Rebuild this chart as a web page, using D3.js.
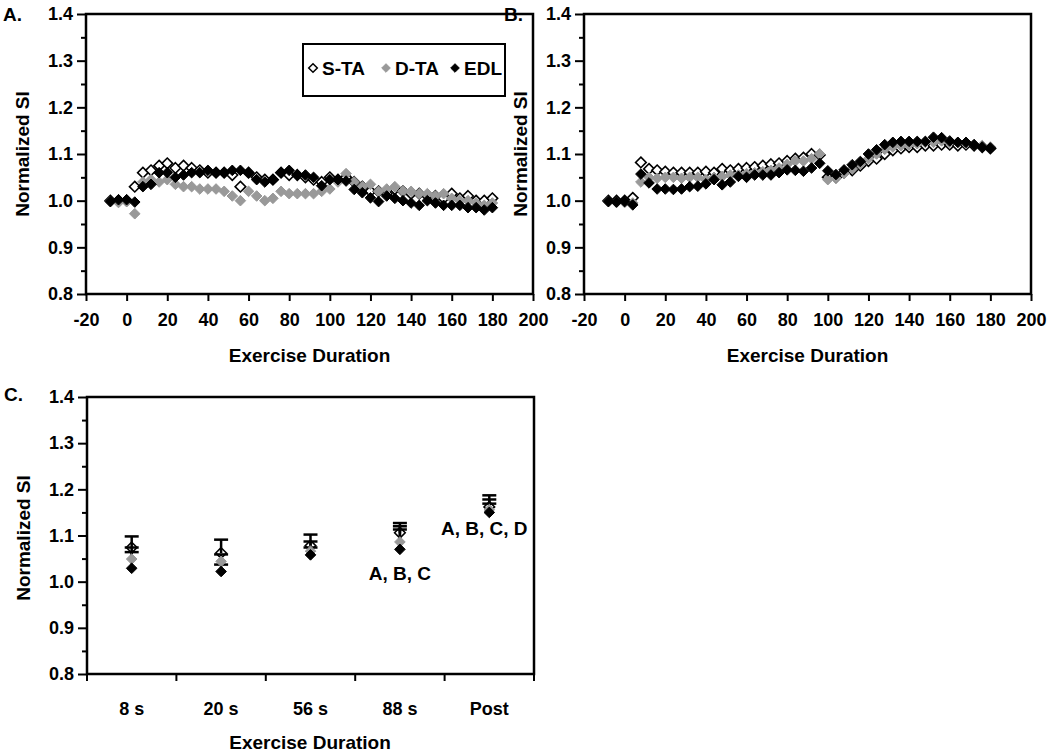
<!DOCTYPE html>
<html><head><meta charset="utf-8">
<script src="https://cdn.jsdelivr.net/npm/d3@7"></script>
<style>body{margin:0;background:#fff}svg{display:block}text{font-family:"Liberation Sans",Arial,sans-serif;font-weight:bold}</style>
</head><body>
<svg id="c" width="1048" height="756"></svg>
<script>
const seriesNames = ["S-TA","D-TA","EDL"];
const timePoints = [-8,-4,0,4,8,12,16,20,24,28,32,36,40,44,48,52,56,60,64,68,72,76,80,84,88,92,96,100,104,108,112,116,120,124,128,132,136,140,144,148,152,156,160,164,168,172,176,180];
const xTicks = [-20,0,20,40,60,80,100,120,140,160,180,200];
const yTicks = [0.8,0.9,1.0,1.1,1.2,1.3,1.4];
const yMinorTicks = [0.85,0.95,1.05,1.15,1.25,1.35];

const aSTA = [1.0,1.0,1.0,1.03,1.06,1.065,1.075,1.08,1.07,1.075,1.07,1.065,1.06,1.06,1.06,1.055,1.03,1.06,1.05,1.045,1.045,1.06,1.055,1.055,1.05,1.045,1.04,1.05,1.045,1.05,1.04,1.03,1.02,1.02,1.015,1.025,1.02,1.015,1.015,1.01,1.01,1.005,1.015,1.005,1.01,1.0,1.0,1.005];
const aDTA = [0.998,0.996,0.998,0.972,1.04,1.045,1.04,1.045,1.035,1.03,1.03,1.025,1.025,1.025,1.02,1.01,1.0,1.02,1.01,1.0,1.005,1.02,1.015,1.015,1.015,1.015,1.02,1.025,1.04,1.058,1.04,1.03,1.035,1.02,1.025,1.03,1.02,1.02,1.015,1.015,1.01,1.015,1.005,1.0,1.0,0.995,0.99,0.995];
const aEDL = [0.998,1.002,1.002,0.997,1.03,1.035,1.06,1.06,1.05,1.055,1.06,1.06,1.065,1.06,1.06,1.065,1.065,1.06,1.045,1.04,1.045,1.06,1.065,1.055,1.055,1.05,1.032,1.045,1.045,1.042,1.024,1.017,1.006,0.998,1.01,1.005,1.0,0.995,0.99,1.0,0.995,0.99,0.99,0.99,0.985,0.985,0.98,0.985];

const bSTA = [1.0,1.0,1.0,1.006,1.082,1.068,1.065,1.062,1.06,1.06,1.06,1.06,1.062,1.06,1.068,1.065,1.068,1.07,1.072,1.075,1.078,1.08,1.085,1.09,1.092,1.1,1.098,1.05,1.05,1.06,1.065,1.075,1.085,1.09,1.1,1.108,1.112,1.115,1.115,1.118,1.118,1.12,1.12,1.118,1.12,1.118,1.115,1.112];
const bDTA = [0.998,0.996,0.996,0.995,1.04,1.05,1.048,1.05,1.05,1.048,1.05,1.05,1.045,1.05,1.052,1.055,1.055,1.058,1.06,1.062,1.065,1.07,1.078,1.085,1.085,1.09,1.1,1.045,1.048,1.058,1.068,1.078,1.09,1.1,1.11,1.115,1.118,1.12,1.122,1.125,1.125,1.128,1.125,1.125,1.122,1.12,1.118,1.115];
const bEDL = [0.998,0.997,0.998,0.991,1.057,1.038,1.025,1.025,1.024,1.025,1.03,1.031,1.036,1.045,1.034,1.04,1.052,1.05,1.055,1.055,1.055,1.06,1.066,1.065,1.063,1.07,1.08,1.064,1.056,1.066,1.077,1.084,1.1,1.109,1.12,1.125,1.127,1.127,1.127,1.127,1.136,1.135,1.128,1.125,1.125,1.12,1.115,1.113];

const cCategories = ["8 s","20 s","56 s","88 s","Post"];
const cMeanSTA = [1.074,1.062,1.078,1.106,1.162];
const cErrSTA  = [0.024,0.029,0.024,0.021,0.025];
const cMeanDTA = [1.049,1.044,1.066,1.086,1.156];
const cErrDTA  = [0.025,0.015,0.021,0.034,0.022];
const cMeanEDL = [1.029,1.022,1.058,1.070,1.150];
const cErrEDL  = [0.035,0.015,0.016,0.043,0.019];
const cAnnotations = [{cat:"88 s", text:"A, B, C"},{cat:"Post", text:"A, B, C, D"}];

const svg = d3.select("#c");
const GRAY = "#999999";
const FONT = "Liberation Sans, Arial, sans-serif";
const diamond = r => `M0,${-r}L${r},0L0,${r}L${-r},0Z`;
const styles = {"S-TA":{fill:"#fff",stroke:"#000",sw:1.6},"D-TA":{fill:GRAY,stroke:GRAY,sw:1},"EDL":{fill:"#000",stroke:"#000",sw:1}};

function frame(g, x0, x1, y0, y1){
  g.append("rect").attr("x",x0).attr("y",y0).attr("width",x1-x0).attr("height",y1-y0)
   .attr("fill","none").attr("stroke","#000").attr("stroke-width",2.5);
}
function styleTicks(ax){
  ax.selectAll("text").attr("font-size",18).attr("fill","#000").attr("font-family",FONT).attr("font-weight","bold");
}
function yAxis(g, y, x0){
  const ax = g.append("g").attr("transform",`translate(${x0},0)`)
    .call(d3.axisLeft(y).tickValues(yTicks).tickSize(9).tickPadding(4).tickFormat(d3.format(".1f")));
  ax.select(".domain").remove();
  ax.selectAll("line").attr("stroke-width",2);
  styleTicks(ax);
  const mn = g.append("g").attr("transform",`translate(${x0},0)`)
    .call(d3.axisLeft(y).tickValues(yMinorTicks).tickSize(5).tickFormat(""));
  mn.select(".domain").remove();
  mn.selectAll("line").attr("stroke-width",2);
}
function yTitle(g, cx, cy){
  g.append("text").attr("transform",`translate(${cx},${cy}) rotate(-90)`).attr("text-anchor","middle")
   .attr("dominant-baseline","central").attr("font-size",19).text("Normalized SI");
}

function timePanel(label, labelX, xr, series){
  const g = svg.append("g");
  const x = d3.scaleLinear().domain([-20,200]).range(xr);
  const y = d3.scaleLinear().domain([0.8,1.4]).range([294,14]);
  series.forEach(([name, vals]) => {
    const st = styles[name];
    g.append("g").selectAll("path").data(vals).join("path")
      .attr("d", diamond(5.3))
      .attr("transform",(d,i)=>`translate(${x(timePoints[i])},${y(d)})`)
      .attr("fill",st.fill).attr("stroke",st.stroke).attr("stroke-width",st.sw);
  });
  frame(g, xr[0], xr[1], 14, 294);
  yAxis(g, y, xr[0]);
  const xa = g.append("g").attr("transform","translate(0,294)")
    .call(d3.axisBottom(x).tickValues(xTicks).tickSize(7).tickPadding(12).tickFormat(d => String(d)));
  xa.select(".domain").remove();
  xa.selectAll("line").attr("stroke-width",2);
  styleTicks(xa);
  g.append("text").attr("x",(xr[0]+xr[1])/2).attr("y",362).attr("text-anchor","middle").attr("font-size",19).text("Exercise Duration");
  g.append("text").attr("x",labelX).attr("y",21).attr("font-size",19).text(label);
  yTitle(g, xr[0]-64, 154);
  return g;
}

const gA = timePanel("A.", 3, [86,533], [["S-TA",aSTA],["D-TA",aDTA],["EDL",aEDL]]);
timePanel("B.", 504, [584,1031], [["S-TA",bSTA],["D-TA",bDTA],["EDL",bEDL]]);

// legend in A
const lg = gA.append("g");
lg.append("rect").attr("x",303).attr("y",44).attr("width",202).attr("height",52).attr("fill","#fff").attr("stroke","#000").attr("stroke-width",2);
const legX = [313,386,455];
seriesNames.forEach((n,i)=>{
  const st = styles[n];
  lg.append("path").attr("d",diamond(4.3)).attr("transform",`translate(${legX[i]},68)`)
    .attr("fill",st.fill).attr("stroke",st.stroke).attr("stroke-width",n==="S-TA"?1.5:1);
  lg.append("text").attr("x",legX[i]+9).attr("y",74.5).attr("font-size",19).text(n);
});

// Panel C
const gC = svg.append("g");
const xC = d3.scaleBand().domain(cCategories).range([87,534]);
const yC = d3.scaleLinear().domain([0.8,1.4]).range([674,397]);
const cx = c => xC(c)+xC.bandwidth()/2;
const cSeries = [["S-TA",cMeanSTA,cErrSTA],["D-TA",cMeanDTA,cErrDTA],["EDL",cMeanEDL,cErrEDL]];
function cMarkers(name, means){
  const st = styles[name];
  gC.append("g").selectAll("path").data(means).join("path")
    .attr("d",diamond(5.3)).attr("transform",(d,i)=>`translate(${cx(cCategories[i])},${yC(d)})`)
    .attr("fill",st.fill).attr("stroke",st.stroke).attr("stroke-width",st.sw);
}
cMarkers("S-TA", cMeanSTA);
cSeries.forEach(([name, means, errs])=>{
  const eg = gC.append("g");
  means.forEach((m,i)=>{
    const xx = cx(cCategories[i]);
    eg.append("line").attr("x1",xx).attr("x2",xx).attr("y1",yC(m)).attr("y2",yC(m+errs[i])).attr("stroke","#000").attr("stroke-width",2.5);
    eg.append("line").attr("x1",xx-7).attr("x2",xx+7).attr("y1",yC(m+errs[i])).attr("y2",yC(m+errs[i])).attr("stroke","#000").attr("stroke-width",2.5);
  });
});
cMarkers("D-TA", cMeanDTA);
cMarkers("EDL", cMeanEDL);
frame(gC, 87, 534, 397, 674);
yAxis(gC, yC, 87);
const xaC = gC.append("g").attr("transform","translate(0,674)")
  .call(d3.axisBottom(xC).tickSize(0).tickPadding(28));
xaC.select(".domain").remove();
styleTicks(xaC);
const bounds = cCategories.map(c=>xC(c)).concat([534]);
gC.append("g").selectAll("line").data(bounds).join("line")
  .attr("x1",d=>d).attr("x2",d=>d).attr("y1",674).attr("y2",681).attr("stroke","#000").attr("stroke-width",2);
gC.append("text").attr("x",310).attr("y",749).attr("text-anchor","middle").attr("font-size",19).text("Exercise Duration");
gC.append("text").attr("x",4).attr("y",401).attr("font-size",19).text("C.");
yTitle(gC, 23, 538);
const annY = {"88 s":580, "Post":535};
const annDX = {"88 s":0, "Post":-5};
cAnnotations.forEach(a=>{
  gC.append("text").attr("x",cx(a.cat)+annDX[a.cat]).attr("y",annY[a.cat]).attr("text-anchor","middle").attr("font-size",19).text(a.text);
});
</script>
</body></html>
